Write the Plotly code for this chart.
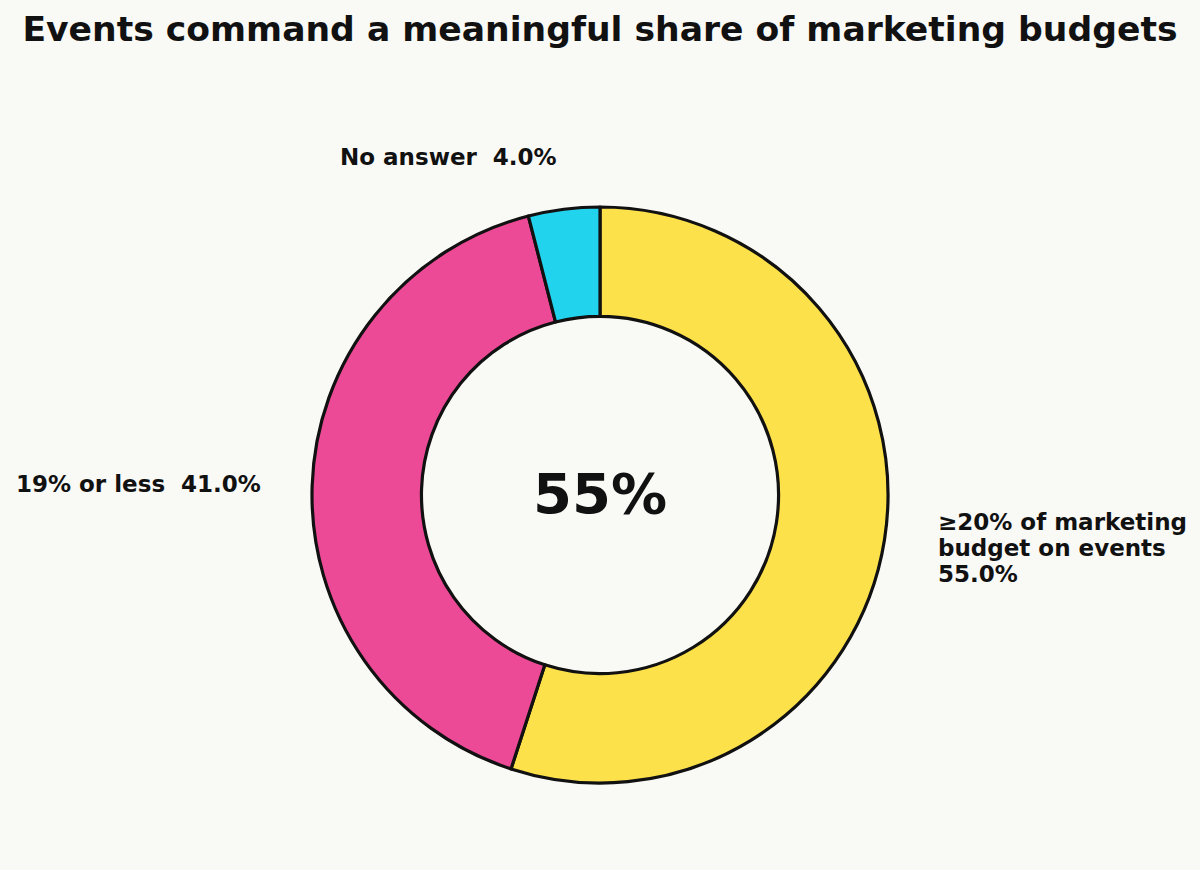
import plotly.graph_objects as go

# data
labels = ["≥20% of marketing<br>budget on events", "19% or less", "No answer"]
values = [55.0, 41.0, 4.0]
colors = ["#FCE14B", "#EC4A96", "#22D3EE"]
center_text = "55%"
title_text = "Events command a meaningful share of marketing budgets"

bg = "#F9F9F6"
ink = "#111111"
font_family = "DejaVu Sans"

W, H = 1200, 870
L, R, T, B = 0, 0, 207, 87


def px_to_paper(px, py):
    # annotations in paper coords are relative to the plot area, not the page
    return (px - L) / (W - L - R), (H - B - py) / (H - T - B)


pie = go.Pie(
    labels=labels,
    values=values,
    hole=0.62,
    sort=False,
    direction="clockwise",
    rotation=0,
    textinfo="none",
    hoverinfo="label+percent",
    marker=dict(colors=colors, line=dict(color=ink, width=3.2)),
    showlegend=False,
)

fig = go.Figure(data=[pie])

# outside labels, placed by hand like the reference
label_pos = [
    dict(x=936, y=522, xanchor="left", sep=None),
    dict(x=14, y=484, xanchor="left", sep="  "),
    dict(x=448, y=157, xanchor="center", sep="  "),
]
line_gap = 26
for lab, val, pos in zip(labels, values, label_pos):
    if pos["sep"] is None:
        lines = lab.split("<br>") + ["%.1f%%" % val]
    else:
        lines = ["%s%s%.1f%%" % (lab, pos["sep"], val)]
    for i, line in enumerate(lines):
        ax, ay = px_to_paper(pos["x"], pos["y"] + i * line_gap)
        fig.add_annotation(
            text="<b>%s</b>" % line,
            x=ax, y=ay, xref="paper", yref="paper",
            xanchor=pos["xanchor"], yanchor="middle",
            showarrow=False,
            font=dict(family=font_family, size=23, color=ink),
        )

cx, cy = px_to_paper(600, 493)
fig.add_annotation(
    text="<b>%s</b>" % center_text,
    x=cx, y=cy, xref="paper", yref="paper",
    showarrow=False,
    font=dict(family=font_family, size=56, color=ink),
)

fig.update_layout(
    width=W, height=H,
    paper_bgcolor=bg, plot_bgcolor=bg,
    margin=dict(l=L, r=R, t=T, b=B),
    title=dict(
        text="<b>%s</b>" % title_text,
        x=0.5, xanchor="center",
        y=1 - 29 / H, yanchor="middle", yref="container",
        font=dict(family=font_family, size=34.6, color=ink),
    ),
)

fig.write_html(
    "out.html",
    config={"displayModeBar": False},
    post_script="document.body.style.margin='0';document.body.style.background='%s';" % bg,
)
